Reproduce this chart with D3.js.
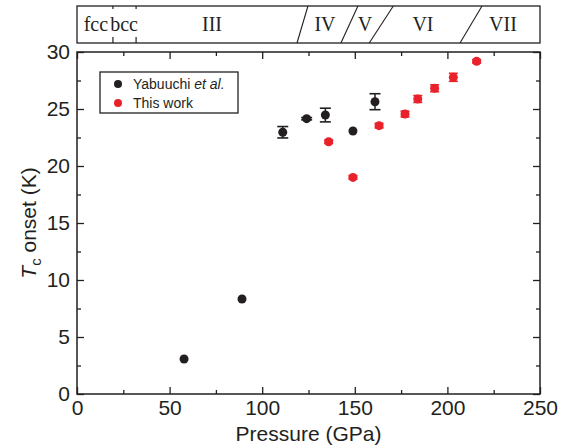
<!DOCTYPE html>
<html>
<head>
<meta charset="utf-8">
<script src="https://cdn.jsdelivr.net/npm/d3@7"></script>
<style>
  body { margin: 0; background: #fff; }
  svg { display: block; }
  text { fill: #231f20; }
</style>
</head>
<body>
<div class="chart"></div>
<script>
// data
const yabP = [57.8, 89.1, 111.1, 124.0, 134.1, 149.0, 160.9];
const yabTc = [3.07, 8.33, 22.96, 24.15, 24.47, 23.07, 25.64];
const yabErr = [0, 0, 0.5, 0.1, 0.6, 0, 0.7];

const ourP = [135.9, 149.0, 163.1, 177.1, 184.0, 193.1, 203.2, 215.8];
const ourTc = [22.13, 19.0, 23.54, 24.56, 25.88, 26.82, 27.78, 29.18];
const ourErr = [0.15, 0.15, 0.2, 0.25, 0.3, 0.3, 0.35, 0.15];

const xTicks = [0, 50, 100, 150, 200, 250];
const yTicks = [0, 5, 10, 15, 20, 25, 30];

// phases along the top band
const phaseNames = ["fcc", "bcc", "III", "IV", "V", "VI", "VII"];
const phaseCenters = [10.2, 25.4, 72.9, 133.9, 155.5, 186.8, 230];
// boundaries: pressure at bottom, pressure at top of the band
const tickBounds = [19.4, 31.9];
const slashBottom = [118.8, 142.5, 157.8, 206.8];
const slashTop = [124.7, 151.7, 170.8, 218.7];

const W = 567;
const H = 448;
const margin = { top: 52, right: 27, bottom: 54, left: 77 };
const ink = "#231f20";
const red = "#e8212b";

const svg = d3.select(".chart").append("svg").attr("width", W).attr("height", H);

const x = d3.scaleLinear().domain([0, 250]).range([margin.left, W - margin.right]);
const y = d3.scaleLinear().domain([0, 30]).range([H - margin.bottom, margin.top]);

const minorX = d3.range(25, 250, 50);
const minorY = d3.range(2.5, 30, 5);

// axes (ticks point inward)
const gx = svg.append("g").attr("transform", `translate(0,${y(0)})`)
  .call(d3.axisBottom(x).tickValues(xTicks).tickSize(-7).tickPadding(6));
svg.append("g").attr("transform", `translate(0,${y(0)})`)
  .call(d3.axisBottom(x).tickValues(minorX).tickSize(-4).tickFormat(""));
svg.append("g").attr("transform", `translate(0,${y(30)})`)
  .call(d3.axisTop(x).tickValues(xTicks).tickSize(-7).tickFormat(""));
svg.append("g").attr("transform", `translate(0,${y(30)})`)
  .call(d3.axisTop(x).tickValues(minorX).tickSize(-4).tickFormat(""));

const gy = svg.append("g").attr("transform", `translate(${x(0)},0)`)
  .call(d3.axisLeft(y).tickValues(yTicks).tickSize(-7).tickPadding(7));
svg.append("g").attr("transform", `translate(${x(0)},0)`)
  .call(d3.axisLeft(y).tickValues(minorY).tickSize(-4).tickFormat(""));
svg.append("g").attr("transform", `translate(${x(250)},0)`)
  .call(d3.axisRight(y).tickValues(yTicks).tickSize(-7).tickFormat(""));
svg.append("g").attr("transform", `translate(${x(250)},0)`)
  .call(d3.axisRight(y).tickValues(minorY).tickSize(-4).tickFormat(""));

svg.selectAll(".domain").remove();
svg.selectAll(".tick line").attr("stroke", ink).attr("stroke-width", 1.3);
svg.selectAll(".tick text")
  .style("font-family", "'Liberation Sans', Arial, sans-serif")
  .style("font-size", "21px")
  .attr("fill", ink);

svg.append("rect")
  .attr("x", x(0)).attr("y", y(30))
  .attr("width", x(250) - x(0)).attr("height", y(0) - y(30))
  .attr("fill", "none").attr("stroke", ink).attr("stroke-width", 1.5);

// axis titles
svg.append("text")
  .attr("x", (x(0) + x(250)) / 2).attr("y", 441)
  .attr("text-anchor", "middle")
  .style("font-family", "'Liberation Sans', Arial, sans-serif")
  .style("font-size", "21px")
  .text("Pressure (GPa)");

const yt = svg.append("text")
  .attr("transform", `translate(36,${(y(0) + y(30)) / 2}) rotate(-90)`)
  .attr("text-anchor", "middle")
  .style("font-family", "'Liberation Sans', Arial, sans-serif")
  .style("font-size", "21px");
yt.append("tspan").attr("font-style", "italic").text("T");
yt.append("tspan").attr("dy", 5).style("font-size", "15px").text("c");
yt.append("tspan").attr("dy", -5).text(" onset (K)");

// top phase band
const bandTop = 6;
const bandBot = 43;
const band = svg.append("g");
band.append("rect")
  .attr("x", x(0)).attr("y", bandTop)
  .attr("width", x(250) - x(0)).attr("height", bandBot - bandTop)
  .attr("fill", "none").attr("stroke", ink).attr("stroke-width", 1.3);

band.selectAll(".bt").data(tickBounds).join("line")
  .attr("x1", (d) => x(d)).attr("x2", (d) => x(d))
  .attr("y1", bandBot).attr("y2", bandBot - 6)
  .attr("stroke", ink).attr("stroke-width", 1.2);
band.selectAll(".tt").data(tickBounds).join("line")
  .attr("x1", (d) => x(d)).attr("x2", (d) => x(d))
  .attr("y1", bandTop).attr("y2", bandTop + 3)
  .attr("stroke", ink).attr("stroke-width", 1.2);

band.selectAll(".slash").data(slashBottom).join("line")
  .attr("x1", (d) => x(d)).attr("y1", bandBot)
  .attr("x2", (d, i) => x(slashTop[i])).attr("y2", bandTop)
  .attr("stroke", ink).attr("stroke-width", 1.1);

band.selectAll(".pname").data(phaseNames).join("text")
  .attr("x", (d, i) => x(phaseCenters[i]))
  .attr("y", 31)
  .attr("text-anchor", "middle")
  .style("font-family", "'Liberation Serif', 'Times New Roman', serif")
  .style("font-size", "20px")
  .text((d) => d);

// error bars and points
function series(P, T, E, color, capW) {
  const pts = P.map((p, i) => ({ p: p, t: T[i], e: E[i] }));
  const g = svg.append("g");
  const withErr = pts.filter((d) => d.e > 0);
  g.selectAll(".eb").data(withErr).join("line")
    .attr("x1", (d) => x(d.p)).attr("x2", (d) => x(d.p))
    .attr("y1", (d) => y(d.t - d.e)).attr("y2", (d) => y(d.t + d.e))
    .attr("stroke", color).attr("stroke-width", 1.5);
  [-1, 1].forEach((s) => {
    g.selectAll(".cap" + s).data(withErr).join("line")
      .attr("x1", (d) => x(d.p) - capW / 2).attr("x2", (d) => x(d.p) + capW / 2)
      .attr("y1", (d) => y(d.t + s * d.e)).attr("y2", (d) => y(d.t + s * d.e))
      .attr("stroke", color).attr("stroke-width", 1.6);
  });
  g.selectAll("circle").data(pts).join("circle")
    .attr("cx", (d) => x(d.p)).attr("cy", (d) => y(d.t))
    .attr("r", 4.5).attr("fill", color);
}
series(yabP, yabTc, yabErr, ink, 11);
series(ourP, ourTc, ourErr, red, 9);

// legend
const lg = svg.append("g");
lg.append("rect")
  .attr("x", 100).attr("y", 72).attr("width", 138).attr("height", 41)
  .attr("fill", "#fff").attr("stroke", ink).attr("stroke-width", 1.3);
const legItems = [
  { color: ink, label: ["Yabuuchi ", "et al."] },
  { color: red, label: ["This work", ""] },
];
legItems.forEach((d, i) => {
  const cy = 84 + i * 19;
  lg.append("circle").attr("cx", 118).attr("cy", cy).attr("r", 4).attr("fill", d.color);
  const t = lg.append("text")
    .attr("x", 133).attr("y", cy + 5)
    .style("font-family", "'Liberation Sans', Arial, sans-serif")
    .style("font-size", "14px");
  t.append("tspan").text(d.label[0]);
  if (d.label[1]) t.append("tspan").attr("font-style", "italic").text(d.label[1]);
});
</script>
</body>
</html>
